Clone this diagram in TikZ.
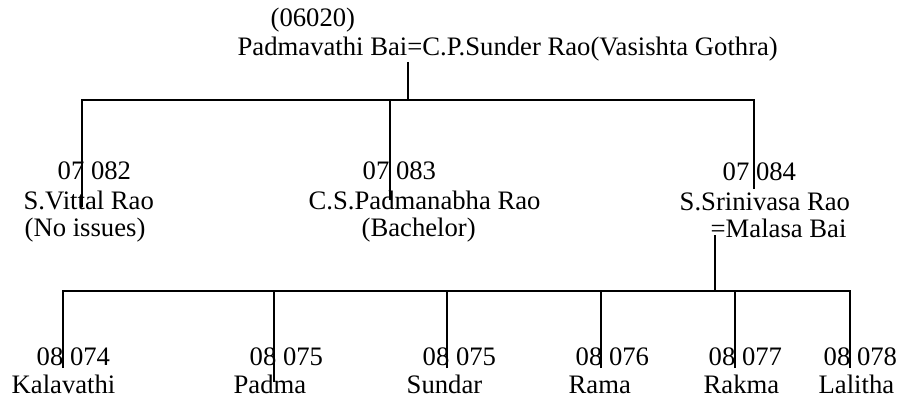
\documentclass[tikz,border=0pt]{standalone}
\usepackage{fontspec}
\setmainfont{Liberation Serif}
\begin{document}
\begin{tikzpicture}[x=0.45pt,y=-0.45pt,line width=0.6pt]
    \tikzstyle{every node}+=[inner sep=0pt,anchor=base west,font=\fontsize{12}{14}\selectfont]
    \useasboundingbox (0,0) rectangle (900,403);
    % parents
    \node (gen) at (270,27) {(06020)};
    \node (par) at (237,56) {Padmavathi Bai=C.P.Sunder Rao(Vasishta Gothra)};
    % sons
    \node (id82) at (57,179) {07 082};
    \node (vittal) at (23,209) {S.Vittal Rao};
    \node (noiss) at (24,236) {(No issues)};
    \node (id83) at (362,179) {07 083};
    \node (padmanabha) at (308,209) {C.S.Padmanabha Rao};
    \node (bach) at (361,236) {(Bachelor)};
    \node (id84) at (722,180) {07 084};
    \node (srinivasa) at (679,210) {S.Srinivasa Rao};
    \node (malasa) at (710,237) {=Malasa Bai};
    % grandchildren
    \node (id74) at (36,365) {08 074};
    \node (kala) at (11,393) {Kalavathi};
    \node (id75a) at (249,365) {08 075};
    \node (padma) at (233,393) {Padma};
    \node (id75b) at (422,365) {08 075};
    \node (sundar) at (406,393) {Sundar};
    \node (id76) at (575,365) {08 076};
    \node (rama) at (568,393) {Rama};
    \node (id77) at (708,365) {08 077};
    \node (rakma) at (703,393) {Rakma};
    \node (id78) at (823,365) {08 078};
    \node (lalitha) at (818,393) {Lalitha};
    % first branch
    \coordinate (stem) at (408,62);
    \coordinate (bar) at (408,100);
    \coordinate (s82) at (82,207);
    \coordinate (s83) at (390,200);
    \coordinate (s84) at (754,189);
    \draw (stem) -- (bar);
    \draw (s82) |- (bar) -| (s84);
    \draw (s83) -- (s83 |- bar);
    % second branch
    \coordinate (wife) at (715,235);
    \coordinate (bar2) at (715,291);
    \coordinate (d74) at (63,368);
    \coordinate (d75a) at (274,382);
    \coordinate (d75b) at (447,368);
    \coordinate (d76) at (601,368);
    \coordinate (d77) at (735,368);
    \coordinate (d78) at (850,368);
    \draw (wife) -- (bar2);
    \draw (d74) |- (bar2) -| (d78);
    \foreach \d in {d75a,d75b,d76,d77}
        \draw (\d) -- (\d |- bar2);
\end{tikzpicture}
\end{document}
